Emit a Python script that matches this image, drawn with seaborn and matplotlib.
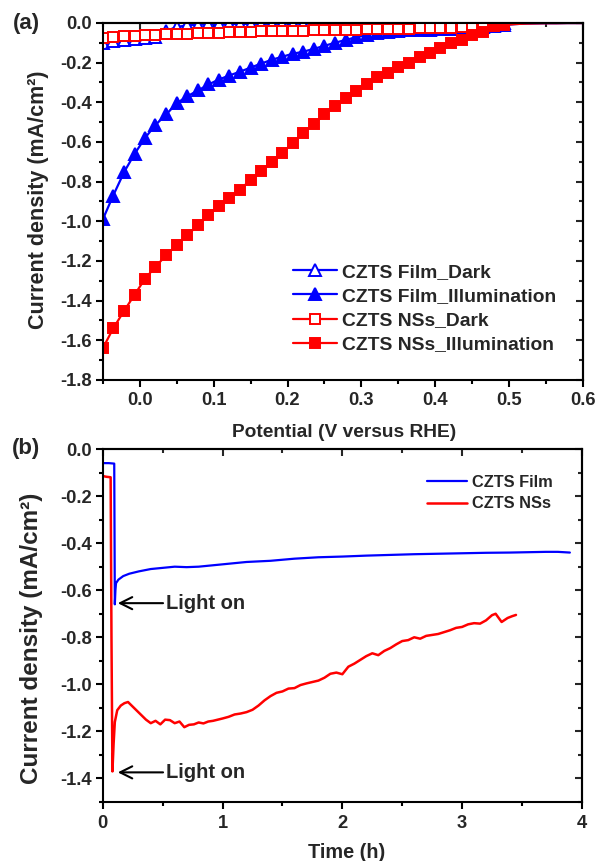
import matplotlib
matplotlib.use("Agg")
import matplotlib.pyplot as plt
import seaborn as sns
from matplotlib.ticker import FormatStrFormatter

# ---- panel (a): linear sweep voltammetry ----
potential = [
    -0.050, -0.036, -0.021, -0.007, 0.007, 0.021, 0.036, 0.050, 0.064, 0.079,
    0.093, 0.107, 0.121, 0.136, 0.150, 0.164, 0.179, 0.193, 0.207, 0.221,
    0.236, 0.250, 0.264, 0.279, 0.293, 0.307, 0.321, 0.336, 0.350, 0.364,
    0.379, 0.393, 0.407, 0.421, 0.436, 0.450, 0.464, 0.479, 0.493, 0.507,
    0.521, 0.536, 0.550, 0.564, 0.579, 0.593, 0.600,
]
film_dark = [
    -0.100, -0.092, -0.087, -0.083, -0.078, -0.070, -0.040, -0.020, -0.012, -0.009,
    -0.007, -0.006, -0.005, -0.005, -0.004, -0.004, -0.004, -0.003, -0.003, -0.003,
    -0.003, -0.002, -0.002, -0.002, -0.002, -0.002, -0.002, -0.002, -0.001, -0.001,
    -0.001, -0.001, -0.001, -0.001, -0.001, -0.001, -0.001, -0.001, -0.001, 0.000,
    0.000, 0.000, 0.000, 0.000, 0.000, 0.000, 0.000,
]
film_light = [
    -0.99, -0.87, -0.75, -0.66, -0.58, -0.515, -0.46, -0.405, -0.37, -0.34,
    -0.31, -0.285, -0.265, -0.245, -0.225, -0.205, -0.185, -0.17, -0.155, -0.145,
    -0.13, -0.115, -0.10, -0.085, -0.072, -0.060, -0.050, -0.045, -0.040, -0.037,
    -0.035, -0.033, -0.032, -0.030, -0.028, -0.025, -0.020, -0.015, -0.010, -0.006,
    -0.003, -0.002, -0.001, -0.001, 0.000, 0.000, 0.000,
]
nss_dark = [
    -0.075, -0.070, -0.067, -0.064, -0.062, -0.060, -0.058, -0.056, -0.054, -0.052,
    -0.050, -0.048, -0.047, -0.045, -0.044, -0.042, -0.041, -0.040, -0.039, -0.038,
    -0.037, -0.036, -0.035, -0.034, -0.033, -0.032, -0.031, -0.030, -0.029, -0.028,
    -0.027, -0.026, -0.025, -0.024, -0.022, -0.020, -0.018, -0.014, -0.010, -0.006,
    -0.003, -0.002, -0.001, -0.001, 0.000, 0.000, 0.000,
]
nss_light = [
    -1.64, -1.54, -1.45, -1.37, -1.29, -1.23, -1.17, -1.12, -1.07, -1.02,
    -0.97, -0.925, -0.885, -0.84, -0.79, -0.745, -0.70, -0.655, -0.605, -0.555,
    -0.51, -0.46, -0.42, -0.38, -0.345, -0.31, -0.27, -0.25, -0.22, -0.20,
    -0.17, -0.15, -0.125, -0.10, -0.085, -0.06, -0.045, -0.015, -0.004, -0.002,
    -0.001, 0.000, 0.000, 0.000, 0.000, 0.000, 0.000,
]
lsv_labels = ["CZTS Film_Dark", "CZTS Film_Illumination",
              "CZTS NSs_Dark", "CZTS NSs_Illumination"]

# ---- panel (b): chronoamperometry ----
film_t = [0.00, 0.05, 0.095, 0.100, 0.105, 0.11, 0.13, 0.17, 0.22, 0.30,
          0.40, 0.50, 0.60, 0.70, 0.80, 0.90, 1.00, 1.20, 1.40, 1.60,
          1.80, 2.00, 2.20, 2.40, 2.60, 2.80, 3.00, 3.20, 3.40, 3.60,
          3.70, 3.80, 3.90]
film_j = [-0.060, -0.060, -0.062, -0.66, -0.60, -0.57, -0.555, -0.54, -0.53, -0.52,
          -0.51, -0.505, -0.500, -0.502, -0.500, -0.495, -0.490, -0.480, -0.475, -0.466,
          -0.460, -0.457, -0.453, -0.450, -0.447, -0.445, -0.443, -0.441, -0.440, -0.438,
          -0.437, -0.437, -0.440]
nss_t = [0.00, 0.03, 0.065, 0.072, 0.080, 0.090, 0.100, 0.12, 0.15, 0.18,
         0.21, 0.24, 0.28, 0.32, 0.36, 0.40, 0.44, 0.48, 0.52, 0.56,
         0.60, 0.64, 0.68, 0.72, 0.76, 0.80, 0.84, 0.88, 0.92, 0.96,
         1.00, 1.05, 1.10, 1.15, 1.20, 1.25, 1.30, 1.35, 1.40, 1.45,
         1.50, 1.55, 1.60, 1.65, 1.70, 1.75, 1.80, 1.85, 1.90, 1.95,
         2.00, 2.05, 2.10, 2.15, 2.20, 2.25, 2.30, 2.35, 2.40, 2.45,
         2.50, 2.55, 2.60, 2.65, 2.70, 2.75, 2.80, 2.85, 2.90, 2.95,
         3.00, 3.05, 3.10, 3.15, 3.20, 3.25, 3.28, 3.33, 3.38, 3.42,
         3.45]
nss_j = [-0.115, -0.118, -0.120, -0.80, -1.37, -1.25, -1.16, -1.11, -1.09, -1.08,
         -1.075, -1.09, -1.11, -1.13, -1.15, -1.165, -1.155, -1.17, -1.150, -1.152,
         -1.165, -1.158, -1.182, -1.172, -1.170, -1.162, -1.166, -1.158, -1.155, -1.150,
         -1.145, -1.138, -1.128, -1.124, -1.118, -1.108, -1.090, -1.068, -1.050, -1.036,
         -1.030, -1.018, -1.016, -1.003, -0.996, -0.990, -0.984, -0.972, -0.955, -0.950,
         -0.957, -0.925, -0.912, -0.896, -0.880, -0.868, -0.876, -0.858, -0.846, -0.830,
         -0.816, -0.812, -0.800, -0.806, -0.794, -0.790, -0.786, -0.778, -0.770, -0.760,
         -0.756, -0.745, -0.740, -0.742, -0.728, -0.706, -0.700, -0.735, -0.718, -0.710,
         -0.705]
ca_labels = ["CZTS Film", "CZTS NSs"]

BLUE = "#0000FF"
RED = "#FF0000"
YLABEL = "Current density (mA/cm²)"

sns.set_theme(style="ticks")
plt.rcParams["font.family"] = ["Liberation Sans", "DejaVu Sans"]
plt.rcParams["font.weight"] = "bold"
plt.rcParams["axes.labelweight"] = "bold"
plt.rcParams["axes.unicode_minus"] = False


def style_axes(ax, xmaj, xmin, ymaj, ymin, xfmt, yfmt, tick_fs=13.2):
    ax.set_xticks(xmaj)
    ax.set_xticks(xmin, minor=True)
    ax.set_yticks(ymaj)
    ax.set_yticks(ymin, minor=True)
    ax.xaxis.set_major_formatter(FormatStrFormatter(xfmt))
    ax.yaxis.set_major_formatter(FormatStrFormatter(yfmt))
    ax.tick_params(which="both", direction="out", width=1.5, color="black",
                   top=False, right=False, labelsize=tick_fs)
    ax.tick_params(axis="x", pad=4)
    ax.tick_params(axis="y", pad=3)
    ax.tick_params(which="major", length=5)
    ax.tick_params(which="minor", length=3)
    plt.setp(ax.get_xticklabels() + ax.get_yticklabels(), fontweight="bold")
    for sp in ax.spines.values():
        sp.set_visible(True)
        sp.set_linewidth(1.5)
        sp.set_color("black")
    # mirrored inward ticks on top and right
    top = ax.secondary_xaxis("top")
    top.set_xticks(xmaj)
    top.set_xticks(xmin, minor=True)
    top.tick_params(which="both", direction="in", width=1.5, labeltop=False)
    top.tick_params(which="major", length=5)
    top.tick_params(which="minor", length=3)
    top.spines["top"].set_linewidth(1.5)
    right = ax.secondary_yaxis("right")
    right.set_yticks(ymaj)
    right.set_yticks(ymin, minor=True)
    right.tick_params(which="both", direction="in", width=1.5, labelright=False)
    right.tick_params(which="major", length=5)
    right.tick_params(which="minor", length=3)
    right.spines["right"].set_linewidth(1.5)


fig = plt.figure(figsize=(5.98, 8.61), dpi=100)
ax1 = fig.add_axes([0.172, 0.5587, 0.803, 0.4146])
ax2 = fig.add_axes([0.172, 0.0685, 0.801, 0.41])

# ---- (a) ----
series_a = [
    (film_dark, BLUE, "^", "white", 9),
    (film_light, BLUE, "^", BLUE, 9),
    (nss_dark, RED, "s", "white", 7),
    (nss_light, RED, "s", RED, 7),
]
for (vals, col, mk, mfc, ms), lab in zip(series_a, lsv_labels):
    sns.lineplot(x=potential, y=vals, ax=ax1, color=col, linewidth=1.6,
                 marker=mk, markersize=ms, markerfacecolor=mfc,
                 markeredgecolor=col, markeredgewidth=1.4, markevery=slice(0, 39),
                 label=lab, sort=False, estimator=None)
ax1.set_xlim(-0.05, 0.6)
ax1.set_ylim(-1.8, 0.0)
style_axes(ax1, [0.0, 0.1, 0.2, 0.3, 0.4, 0.5, 0.6],
           [-0.05, 0.05, 0.15, 0.25, 0.35, 0.45, 0.55],
           [0.0, -0.2, -0.4, -0.6, -0.8, -1.0, -1.2, -1.4, -1.6, -1.8],
           [-0.1, -0.3, -0.5, -0.7, -0.9, -1.1, -1.3, -1.5, -1.7],
           "%.1f", "%.1f")
ax1.set_xlabel("Potential (V versus RHE)", fontsize=13.8)
ax1.set_ylabel(YLABEL, fontsize=15.5)
ax1.xaxis.set_label_coords(0.503, -0.122)
ax1.yaxis.set_label_coords(-0.112, 0.504)
ax1.legend(loc="upper left", bbox_to_anchor=(0.396, 0.327), frameon=False,
           prop={"size": 13.9, "weight": "bold"}, handlelength=2.3,
           handletextpad=0.25, labelspacing=0.35, borderpad=0,
           borderaxespad=0, numpoints=1)

# ---- (b) ----
sns.lineplot(x=film_t, y=film_j, ax=ax2, color=BLUE, linewidth=1.6,
             label=ca_labels[0], sort=False, estimator=None)
sns.lineplot(x=nss_t, y=nss_j, ax=ax2, color=RED, linewidth=1.8,
             label=ca_labels[1], sort=False, estimator=None)
ax2.set_xlim(0, 4)
ax2.set_ylim(-1.5, 0.0)
style_axes(ax2, [0, 1, 2, 3, 4], [0.5, 1.5, 2.5, 3.5],
           [0.0, -0.2, -0.4, -0.6, -0.8, -1.0, -1.2, -1.4],
           [-0.1, -0.3, -0.5, -0.7, -0.9, -1.1, -1.3, -1.5],
           "%d", "%.1f")
ax2.set_xlabel("Time (h)", fontsize=14.3)
ax2.set_ylabel(YLABEL, fontsize=17.5)
ax2.xaxis.set_label_coords(0.508, -0.115)
ax2.yaxis.set_label_coords(-0.125, 0.465)
ax2.legend(loc="upper left", bbox_to_anchor=(0.676, 0.926), frameon=False,
           prop={"size": 11.8, "weight": "bold"}, handlelength=2.45,
           handletextpad=0.3, labelspacing=0.38, borderpad=0, borderaxespad=0)

for y in (-0.655, -1.374):
    ax2.annotate("Light on", xy=(0.125, y), xytext=(0.53, y),
                 ha="left", va="center", fontsize=14.5, fontweight="bold",
                 arrowprops=dict(arrowstyle="->,head_length=0.6,head_width=0.3",
                                 lw=1.5, color="black", shrinkA=0, shrinkB=0))

fig.text(0.022, 1 - 23 / 861, "(a)", fontsize=16, fontweight="bold", va="center")
fig.text(0.020, 1 - 448 / 861, "(b)", fontsize=16, fontweight="bold", va="center")

fig.savefig("out.png", dpi=100)
